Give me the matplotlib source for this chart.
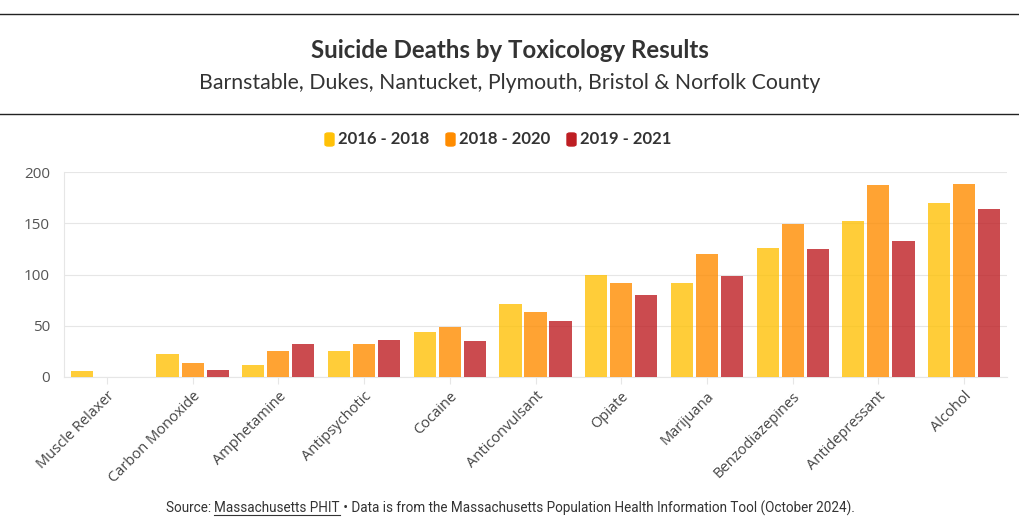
import matplotlib
matplotlib.use("Agg")
import matplotlib.pyplot as plt
from matplotlib.lines import Line2D
from matplotlib.patches import FancyBboxPatch
import numpy as np

# data
categories = ["Muscle Relaxer", "Carbon Monoxide", "Amphetamine", "Antipsychotic",
              "Cocaine", "Anticonvulsant", "Opiate", "Marijuana", "Benzodiazepines",
              "Antidepressant", "Alcohol"]
series_names = ["2016 - 2018", "2018 - 2020", "2019 - 2021"]
deaths_2016_2018 = [6, 22, 12, 25, 44, 71, 100, 92, 126, 152, 170]
deaths_2018_2020 = [0, 14, 25, 32, 49, 63, 92, 120, 149, 187, 188]
deaths_2019_2021 = [0, 7, 32, 36, 35, 55, 80, 99, 125, 133, 164]
colors = ["#FFC107", "#FF8C00", "#BE1E23"]

plt.rcParams['font.family'] = ['Lato', 'DejaVu Sans']

fig = plt.figure(figsize=(10.2, 5.31), dpi=100)
ax = fig.add_axes([64 / 1020, 1 - 377 / 531, 943 / 1020, 205 / 531])

x = np.arange(len(categories))
step = 0.292
width = 0.258
for i, vals in enumerate([deaths_2016_2018, deaths_2018_2020, deaths_2019_2021]):
    ax.bar(x + (i - 1) * step, vals, width, color=colors[i], alpha=0.8, zorder=3)

ax.set_xlim(-0.5, len(categories) - 0.5)
ax.set_ylim(0, 200)
ax.set_yticks([0, 50, 100, 150, 200])
ax.grid(axis='y', color='#e6e6e6', linewidth=0.8, zorder=0)
for s in ['top', 'right']:
    ax.spines[s].set_visible(False)
ax.spines['left'].set_color('#e6e6e6')
ax.spines['bottom'].set_color('#e6e6e6')
ax.tick_params(axis='y', length=0, pad=10, labelsize=11, labelcolor='#555555')
ax.tick_params(axis='x', length=5, color='#e6e6e6', labelsize=10.5, labelcolor='#444444')
ax.set_xticks(x)
ax.set_xticklabels(categories, rotation=45, ha='right', rotation_mode='anchor',
                   family=['Open Sans', 'DejaVu Sans'])
for lab in ax.get_yticklabels():
    lab.set_family(['Open Sans', 'DejaVu Sans'])

# header lines and titles
fig.add_artist(Line2D([0, 1], [1 - 14 / 531, 1 - 14 / 531], color='#222222', linewidth=1))
fig.add_artist(Line2D([0, 1], [1 - 114 / 531, 1 - 114 / 531], color='#222222', linewidth=1))
fig.text(0.5, 1 - 51 / 531, "Suicide Deaths by Toxicology Results", ha='center', va='center',
         fontsize=17.3, fontweight='bold', color='#333333')
fig.text(0.5, 1 - 83 / 531, "Barnstable, Dukes, Nantucket, Plymouth, Bristol & Norfolk County",
         ha='center', va='center', fontsize=15.3, color='#333333')

# legend, drawn by hand
leg_x = [325, 446, 567]
for i, name in enumerate(series_names):
    fig.add_artist(FancyBboxPatch((leg_x[i] / 1020, 1 - 146 / 531), 9 / 1020, 13 / 531,
                                  boxstyle="round,pad=0,rounding_size=0.003",
                                  transform=fig.transFigure, color=colors[i]))
    fig.text((leg_x[i] + 13) / 1020, 1 - 139 / 531, name, ha='left', va='center',
             fontsize=12, fontweight='bold', color='#333333')

# footer with underlined link text
renderer = fig.canvas.get_renderer()
parts = ["Source: ", "Massachusetts PHIT",
         " \u2022 Data is from the Massachusetts Population Health Information Tool (October 2024)."]
texts = []
for p in parts:
    t = fig.text(0, 1 - 508 / 531, p, ha='left', va='center', fontsize=9.75, color='#333333',
                 family=['Roboto', 'DejaVu Sans'])
    texts.append(t)
widths = [t.get_window_extent(renderer).width for t in texts]
left = 510 - sum(widths) / 2
for t, w in zip(texts, widths):
    t.set_x(left / 1020)
    left += w
link = texts[1].get_window_extent(renderer)
fig.add_artist(Line2D([link.x0 / 1020, link.x1 / 1020], [(531 - 515) / 531] * 2,
                      color='#333333', linewidth=0.8))

fig.savefig("out.png", dpi=100)
